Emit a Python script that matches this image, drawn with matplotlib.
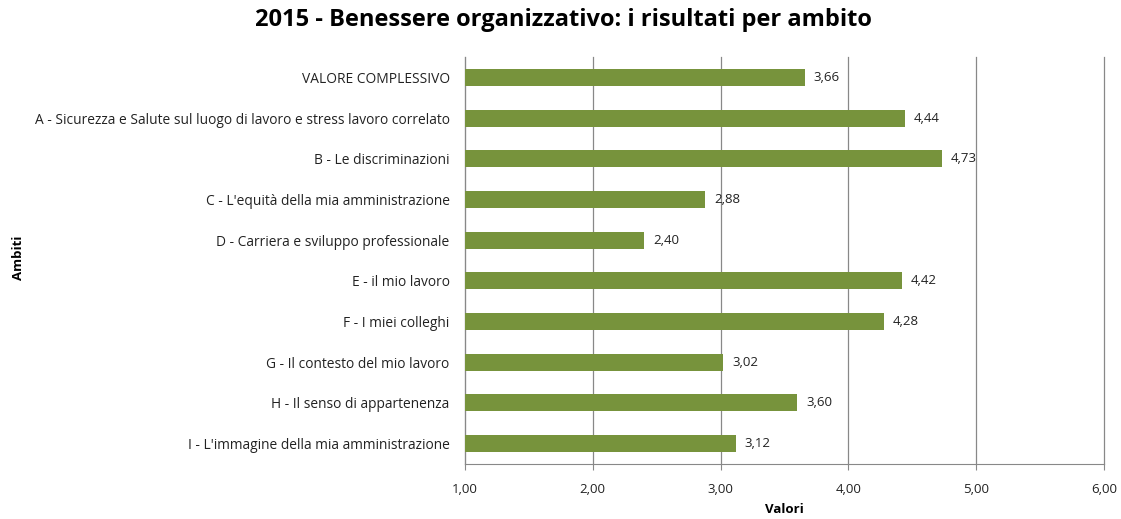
import matplotlib
matplotlib.use("Agg")
import matplotlib.pyplot as plt
from matplotlib.ticker import FuncFormatter, MultipleLocator

categories = [
    "VALORE COMPLESSIVO",
    "A - Sicurezza e Salute sul luogo di lavoro e stress lavoro correlato",
    "B - Le discriminazioni",
    "C - L'equità della mia amministrazione",
    "D - Carriera e sviluppo professionale",
    "E - il mio lavoro",
    "F - I miei colleghi",
    "G - Il contesto del mio lavoro",
    "H - Il senso di appartenenza",
    "I - L'immagine della mia amministrazione",
]
values = [3.66, 4.44, 4.73, 2.88, 2.40, 4.42, 4.28, 3.02, 3.60, 3.12]

plt.rcParams['font.family'] = ['Open Sans', 'DejaVu Sans']

fig = plt.figure(figsize=(11.21, 5.19), dpi=100)
ax = fig.add_axes([465/1121, 1-464/519, (1104-465)/1121, (464-57)/519])

ypos = list(range(len(categories)))
ax.barh(ypos, [v - 1 for v in values], left=1, height=0.42, color='#77933C', zorder=3)
for y, v in zip(ypos, values):
    ax.text(v + 0.07, y, f"{v:.2f}".replace('.', ','), va='center', ha='left', fontsize=9.5, color='#222222')

ax.set_xlim(1, 6)
ax.set_ylim(len(categories) - 0.5, -0.5)
ax.set_yticks(ypos)
ax.set_yticklabels(categories, fontsize=9.9, color='#222222')
ax.xaxis.set_major_locator(MultipleLocator(1))
ax.xaxis.set_major_formatter(FuncFormatter(lambda x, p: f"{x:.2f}".replace('.', ',')))
ax.tick_params(axis='x', labelsize=9.5, colors='#222222', length=4, color='#888888', direction='out', pad=10)
ax.tick_params(axis='y', length=0, pad=11)
ax.grid(axis='x', color='#888888', linewidth=0.9, zorder=0)
for gl in ax.get_xgridlines():
    gl.set_clip_on(False)
for s in ['top', 'right']:
    ax.spines[s].set_visible(False)
for s in ['left', 'bottom']:
    ax.spines[s].set_color('#888888')
ax.set_xlabel("Valori", fontsize=9.5, fontweight='bold', labelpad=5)
fig.text(18/1121, 1-258/519, "Ambiti", rotation=90, fontsize=9.5, fontweight='bold', ha='center', va='center')
fig.text(563/1121, 1-20/519, "2015 - Benessere organizzativo: i risultati per ambito", fontsize=17, fontweight='bold', ha='center', va='center')

fig.savefig("out.png", dpi=100)
